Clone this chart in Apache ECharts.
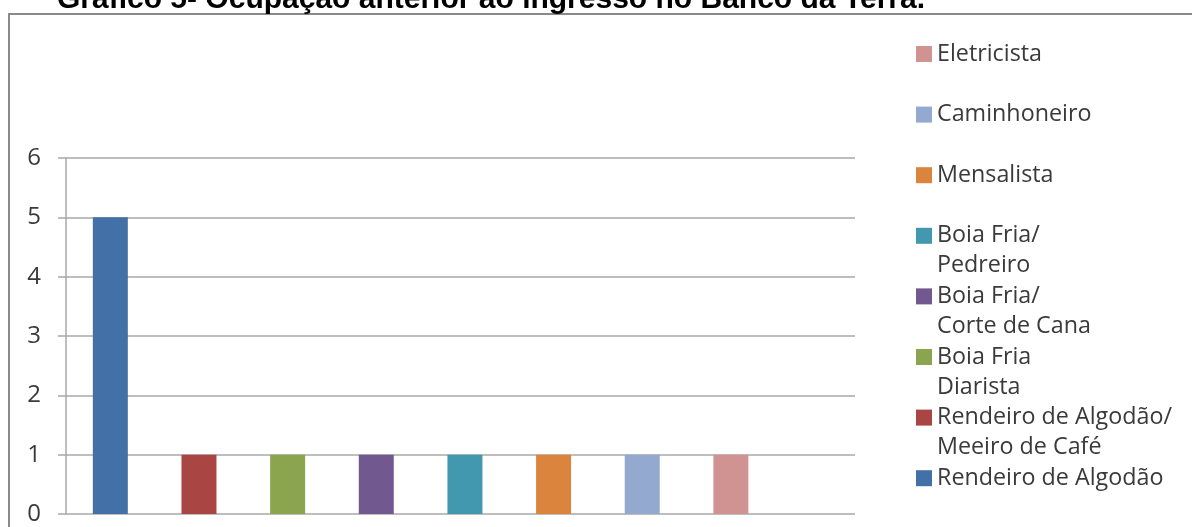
<!DOCTYPE html>
<html>
<head>
<meta charset="utf-8">
<script src="https://cdn.jsdelivr.net/npm/echarts@6/dist/echarts.min.js"></script>
<style>
html,body{margin:0;padding:0;background:#fff;}
#c{width:1192px;height:527px;}
</style>
</head>
<body>
<div id="c"></div>
<script>
var titleBold = 'Gráfico 5';
var titleRest = '- Ocupação anterior ao ingresso no Banco da Terra.';
var categories = ['Rendeiro de Algodão', 'Rendeiro de Algodão/\nMeeiro de Café', 'Boia Fria\nDiarista', 'Boia Fria/\nCorte de Cana', 'Boia Fria/\nPedreiro', 'Mensalista', 'Caminhoneiro', 'Eletricista'];
var values = [5, 1, 1, 1, 1, 1, 1, 1];
var colors = ['#4470a8', '#a94643', '#8aa54e', '#71588f', '#4298af', '#db843d', '#93a9cf', '#d19392'];
var yTicks = [0, 1, 2, 3, 4, 5, 6];

var FONT = 'Open Sans';
var chart = echarts.init(document.getElementById('c'));

var series = categories.map(function (name, i) {
  return {
    type: 'bar',
    name: name,
    data: [[i + 1, values[i]]],
    barWidth: 35,
    barGap: '-100%',
    itemStyle: { color: colors[i] },
    silent: true
  };
});

// legend: reversed order, one component per item so multi-line items keep even spacing
var legendTopFirst = 39;
var legendStep = 60.6;
var legends = [];
for (var k = 0; k < categories.length; k++) {
  var idx = categories.length - 1 - k;
  var multi = categories[idx].indexOf('\n') >= 0;
  legends.push({
    data: [categories[idx]],
    left: 916,
    top: legendTopFirst + k * legendStep - (multi ? 30 : 0),
    orient: 'vertical',
    itemWidth: 16,
    itemHeight: 16,
    icon: 'rect',
    selectedMode: false,
    padding: 0,
    formatter: function (name) {
      // leading empty line keeps the marker level with the first text line
      return name.indexOf('\n') >= 0 ? '\n' + name : name;
    },
    textStyle: {
      fontFamily: FONT,
      fontSize: 23.3,
      color: '#3a3a3a',
      lineHeight: 30
    }
  });
}

chart.setOption({
  animation: false,
  title: {
    text: '{b|' + titleBold + '}{n|' + titleRest + '}',
    left: 57,
    top: -15,
    padding: 0,
    textStyle: {
      rich: {
        b: { fontFamily: 'Liberation Sans', fontWeight: 'bold', fontSize: 30, color: '#000', lineHeight: 30 },
        n: { fontFamily: 'Liberation Sans', fontSize: 30, color: '#000', lineHeight: 30 }
      }
    }
  },
  graphic: [{
    type: 'rect',
    shape: { x: 9, y: 14, width: 1220, height: 600 },
    style: { fill: 'none', stroke: '#8a8a8a', lineWidth: 2 },
    z: 0
  }],
  legend: legends,
  grid: { left: 66, top: 158, right: 337, bottom: 13 },
  xAxis: {
    type: 'value',
    min: 0.5,
    max: 9.4,
    axisLabel: { show: false },
    axisTick: { show: false },
    splitLine: { show: false },
    axisLine: { show: false }
  },
  yAxis: {
    type: 'value',
    min: yTicks[0],
    max: yTicks[yTicks.length - 1],
    interval: 1,
    axisLine: { show: true, lineStyle: { color: '#a8a8a8', width: 1.5 } },
    axisTick: { show: true, length: 8, lineStyle: { color: '#a8a8a8', width: 1.5 } },
    axisLabel: { margin: 25, fontFamily: FONT, fontSize: 24, color: '#3a3a3a', padding: [3, 0, 0, 0] },
    splitLine: { show: true, lineStyle: { color: '#a8a8a8', width: 1.5 } }
  },
  series: series
});
</script>
</body>
</html>
